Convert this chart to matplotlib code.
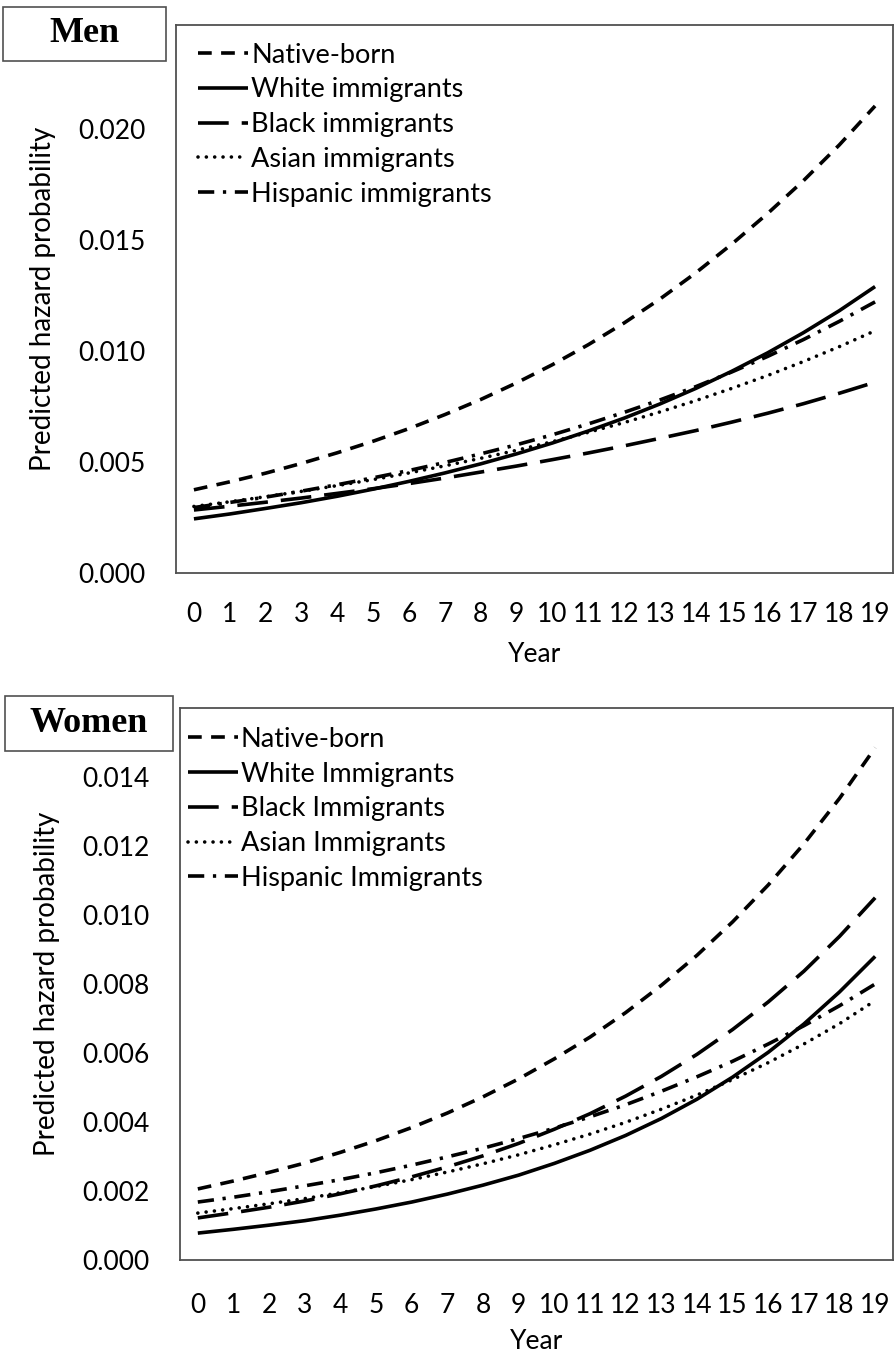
import matplotlib
matplotlib.use("Agg")
import matplotlib.pyplot as plt
from matplotlib.patches import Rectangle

plt.rcParams['font.family'] = ['Lato', 'DejaVu Sans']

years = list(range(20))
year_labels = [str(y) for y in years]

# Men
men_labels = ['Native-born', 'White immigrants', 'Black immigrants',
              'Asian immigrants', 'Hispanic immigrants']
men_native = [.00375, .00411, .00450, .00494, .00542, .00594, .00651, .00714, .00782, .00857,
              .00939, .01029, .01127, .01235, .01353, .01482, .01620, .01768, .01929, .02105]
men_white = [.00244, .00266, .00291, .00317, .00346, .00378, .00413, .00451, .00492, .00537,
             .00586, .00640, .00698, .00762, .00832, .00909, .00992, .01083, .01182, .01291]
men_black = [.00284, .00301, .00319, .00338, .00359, .00380, .00403, .00428, .00455, .00482,
             .00511, .00541, .00573, .00607, .00642, .00680, .00720, .00763, .00810, .00860]
men_asian = [.00300, .00321, .00344, .00368, .00394, .00421, .00451, .00483, .00517, .00553,
             .00592, .00634, .00678, .00726, .00777, .00832, .00890, .00953, .01020, .01092]
men_hisp = [.00295, .00318, .00342, .00369, .00398, .00429, .00462, .00498, .00537, .00578,
            .00623, .00672, .00724, .00780, .00840, .00906, .00976, .01052, .01134, .01222]

# Women
women_labels = ['Native-born', 'White Immigrants', 'Black Immigrants',
                'Asian Immigrants', 'Hispanic Immigrants']
women_native = [.00206, .00229, .00254, .00281, .00312, .00346, .00384, .00426, .00473, .00525,
                .00583, .00646, .00717, .00796, .00883, .00980, .01087, .01206, .01338, .01485]
women_white = [.00078, .00089, .00101, .00114, .00130, .00148, .00168, .00191, .00217, .00246,
               .00280, .00318, .00361, .00410, .00466, .00530, .00602, .00684, .00777, .00880]
women_black = [.00122, .00137, .00153, .00171, .00192, .00215, .00241, .00270, .00302, .00338,
               .00379, .00424, .00475, .00532, .00596, .00668, .00748, .00837, .00938, .01050]
women_asian = [.00136, .00149, .00163, .00178, .00195, .00213, .00233, .00255, .00279, .00305,
               .00334, .00365, .00399, .00437, .00478, .00523, .00572, .00626, .00685, .00752]
women_hisp = [.00168, .00182, .00198, .00215, .00233, .00253, .00275, .00299, .00324, .00352,
              .00382, .00415, .00450, .00489, .00531, .00576, .00626, .00679, .00737, .00800]

men_yticks = [0.000, 0.005, 0.010, 0.015, 0.020]
women_yticks = [0.000, 0.002, 0.004, 0.006, 0.008, 0.010, 0.012, 0.014]

LW = 2.6
styles = [
    dict(dashes=(3.8, 2.6), dash_capstyle='butt'),
    dict(linestyle='-', solid_capstyle='butt'),
    dict(dashes=(8.5, 3.6), dash_capstyle='butt'),
    dict(dashes=(0.01, 2.3), dash_capstyle='round'),
    dict(dashes=(4.5, 2.4, 0.9, 2.4), dash_capstyle='butt'),
]

fig = plt.figure(figsize=(8.95, 13.57), dpi=100)
ax1 = fig.add_axes([176 / 895, 1 - 573 / 1357, 717 / 895, 548 / 1357])
ax2 = fig.add_axes([180 / 895, 1 - 1260 / 1357, 713 / 895, 552 / 1357])


def draw(ax, series, labels, yticks, ytop, leg_x, leg_y, xpad):
    for s, lab, st in zip(series, labels, styles):
        ax.plot(years, s, color='black', lw=LW, label=lab, **st)
    ax.set_xlim(-0.5, 19.5)
    ax.set_ylim(0, ytop)
    ax.set_xticks(years)
    ax.set_xticklabels(year_labels)
    ax.set_yticks(yticks)
    ax.set_yticklabels(['%.3f' % v for v in yticks])
    ax.tick_params(axis='both', length=0, labelsize=19)
    ax.tick_params(axis='y', pad=22)
    ax.tick_params(axis='x', pad=xpad)
    for sp in ax.spines.values():
        sp.set_color('#505050')
        sp.set_linewidth(1.3)
    ax.set_xlabel('Year', fontsize=19)
    ax.set_ylabel('Predicted hazard probability', fontsize=20)
    ax.xaxis.set_label_coords(0.5, -0.125)
    ax.yaxis.set_label_coords(-0.168, 0.5)
    ax.legend(loc='upper left', bbox_to_anchor=(leg_x, leg_y), frameon=False,
              fontsize=19.5, handlelength=1.85, handletextpad=0.1,
              labelspacing=0.36, borderpad=0, borderaxespad=0)


draw(ax1, [men_native, men_white, men_black, men_asian, men_hisp], men_labels,
     men_yticks, 0.0247, 0.031, 0.968, 21)
draw(ax2, [women_native, women_white, women_black, women_asian, women_hisp], women_labels,
     women_yticks, 0.016, 0.011, 0.966, 24)

# title boxes
for (x0, y0, x1, y1), txt in [((3, 7, 166, 61), 'Men'), ((5, 696, 173, 751), 'Women')]:
    fig.add_artist(Rectangle((x0 / 895, 1 - y1 / 1357), (x1 - x0) / 895, (y1 - y0) / 1357,
                             transform=fig.transFigure, fill=False,
                             edgecolor='#505050', lw=1.2))
    fig.text((x0 + x1) / 2 / 895, 1 - (y0 + y1) / 2 / 1357, txt, ha='center', va='center',
             fontsize=26, fontweight='bold', family='Liberation Serif')

fig.savefig('out.png', dpi=100)
